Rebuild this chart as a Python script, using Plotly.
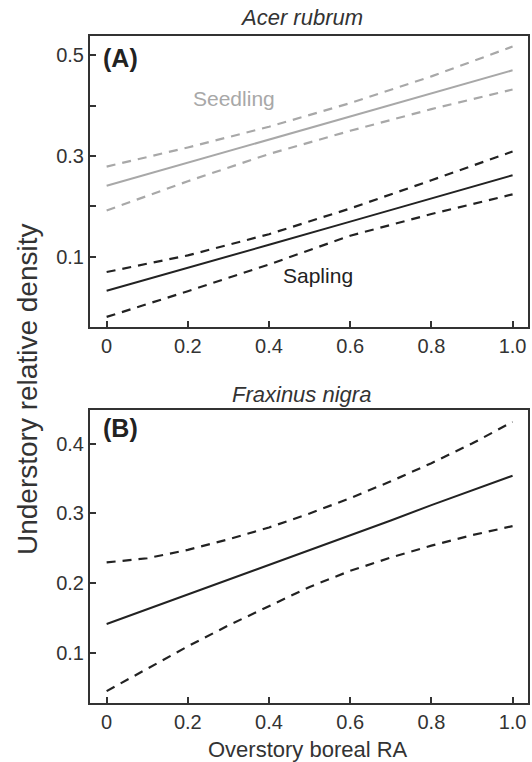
import plotly.graph_objects as go

# ---- Data ----
x_a = [0.0, 0.2, 0.4, 0.6, 0.8, 1.0]
seedling_mean = [0.241, 0.287, 0.333, 0.378, 0.424, 0.470]
seedling_upper = [0.279, 0.317, 0.358, 0.405, 0.458, 0.517]
seedling_lower = [0.192, 0.250, 0.304, 0.350, 0.393, 0.432]
sapling_mean = [0.033, 0.078, 0.124, 0.170, 0.216, 0.262]
sapling_upper = [0.070, 0.103, 0.145, 0.196, 0.252, 0.309]
sapling_lower = [-0.019, 0.032, 0.085, 0.142, 0.185, 0.224]

x_b = [0.0, 0.1, 0.2, 0.3, 0.4, 0.5, 0.6, 0.7, 0.8, 0.9, 1.0]
fraxinus_mean = [0.142, 0.163, 0.184, 0.206, 0.227, 0.248, 0.269, 0.290, 0.312, 0.333, 0.354]
fraxinus_upper = [0.230, 0.236, 0.248, 0.263, 0.280, 0.300, 0.322, 0.346, 0.372, 0.400, 0.431]
fraxinus_lower = [0.046, 0.078, 0.110, 0.140, 0.168, 0.195, 0.218, 0.237, 0.254, 0.269, 0.282]

x_ticks = [0, 0.2, 0.4, 0.6, 0.8, 1.0]
x_ticktext = ["0", "0.2", "0.4", "0.6", "0.8", "1.0"]
ya_ticks = [0.1, 0.2, 0.3, 0.4, 0.5]
ya_ticktext = ["0.1", "", "0.3", "", "0.5"]
yb_ticks = [0.1, 0.2, 0.3, 0.4]
yb_ticktext = ["0.1", "0.2", "0.3", "0.4"]

W, H = 532, 762
BLACK = "#222222"
GRAY = "#a8a8a8"
TXT = "#333333"
FONT = "Liberation Sans, Arial, sans-serif"
DASH = "9px,7px"

fig = go.Figure()

def add(x, y, color, dash, xa, ya, w):
    fig.add_trace(go.Scatter(x=x, y=y, mode="lines", xaxis=xa, yaxis=ya,
                             line=dict(color=color, width=w, dash=dash),
                             showlegend=False, hoverinfo="skip"))

add(x_a, seedling_upper, GRAY, DASH, "x", "y", 2.2)
add(x_a, seedling_mean, GRAY, "solid", "x", "y", 2)
add(x_a, seedling_lower, GRAY, DASH, "x", "y", 2.2)
add(x_a, sapling_upper, BLACK, DASH, "x", "y", 2.2)
add(x_a, sapling_mean, BLACK, "solid", "x", "y", 2)
add(x_a, sapling_lower, BLACK, DASH, "x", "y", 2.2)

add(x_b, fraxinus_upper, BLACK, DASH, "x2", "y2", 2.2)
add(x_b, fraxinus_mean, BLACK, "solid", "x2", "y2", 2)
add(x_b, fraxinus_lower, BLACK, DASH, "x2", "y2", 2.2)

xdom = [90 / W, 528 / W]
ydom_a = [1 - 327 / H, 1 - 36 / H]
ydom_b = [1 - 703 / H, 1 - 410 / H]

axis_common = dict(showline=True, linecolor="#333333", linewidth=2, mirror=True,
                   ticks="inside", ticklen=6, tickwidth=1.5, tickcolor="#333333",
                   showgrid=False, zeroline=False,
                   tickfont=dict(family=FONT, size=20, color=TXT))

fig.update_layout(
    width=W, height=H,
    margin=dict(l=0, r=0, t=0, b=0),
    paper_bgcolor="white", plot_bgcolor="white",
    xaxis=dict(domain=xdom, range=[-0.041, 1.038], anchor="y",
               tickvals=x_ticks, ticktext=x_ticktext, **axis_common),
    yaxis=dict(domain=ydom_a, range=[-0.039, 0.538], anchor="x",
               tickvals=ya_ticks, ticktext=ya_ticktext, **axis_common),
    xaxis2=dict(domain=xdom, range=[-0.041, 1.038], anchor="y2",
                tickvals=x_ticks, ticktext=x_ticktext, **axis_common),
    yaxis2=dict(domain=ydom_b, range=[0.029, 0.448], anchor="x2",
                tickvals=yb_ticks, ticktext=yb_ticktext, **axis_common),
)

def ann(text, xpx, ypx, size, color=TXT, **kw):
    fig.add_annotation(text=text, x=xpx / W, y=1 - ypx / H, xref="paper", yref="paper",
                       showarrow=False, xanchor="center", yanchor="middle",
                       font=dict(family=FONT, size=size, color=color), **kw)

ann("<i>Acer rubrum</i>", 301, 17, 22)
ann("<i>Fraxinus nigra</i>", 301, 394, 22)
ann("<b>(A)</b>", 120, 58, 25, color="#222222")
ann("<b>(B)</b>", 120, 428, 25, color="#222222")
ann("Seedling", 234, 98, 21, color=GRAY)
ann("Sapling", 318, 275, 21, color=BLACK)
ann("Overstory boreal RA", 308, 749, 22)
ann("Understory relative density", 27, 390, 28, textangle=-90)

fig.write_html(
    "out.html",
    config={"displayModeBar": False},
    post_script="document.body.style.margin='0';document.body.style.overflow='hidden';",
)
